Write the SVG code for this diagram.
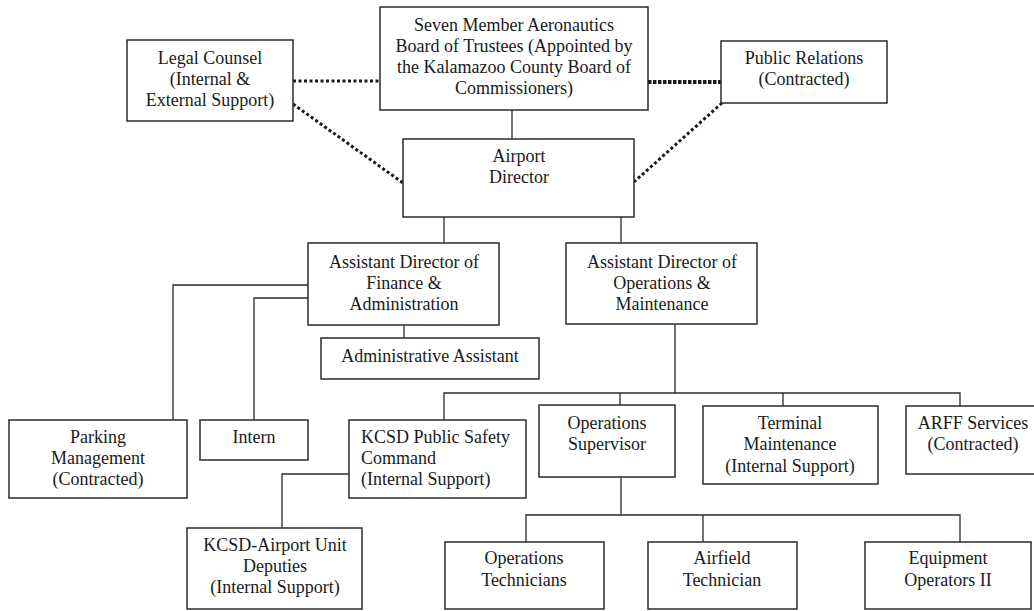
<svg xmlns="http://www.w3.org/2000/svg" width="1034" height="611" viewBox="0 0 1034 611">
<style>
.box{fill:#fff;stroke:#2b2b2b;stroke-width:1.5}
.t{font-family:"Liberation Serif","Times New Roman",serif;font-size:18px;fill:#1a1a1a;text-anchor:middle}
.tl{font-family:"Liberation Serif","Times New Roman",serif;font-size:18px;fill:#1a1a1a;text-anchor:start}
.c{fill:none;stroke:#2b2b2b;stroke-width:1.3}
.d{fill:none;stroke:#1a1a1a;stroke-width:3;stroke-dasharray:3 2.5}
.d2{fill:none;stroke:#1a1a1a;stroke-width:4;stroke-dasharray:3.5 1.5}
</style>
<rect width="1034" height="611" fill="#fff"/>
<g id="connectors">
<path class="d" d="M293 81H380"/>
<path class="d2" d="M648 82H721"/>
<path class="d" d="M293 104L403 183"/>
<path class="d" d="M722 103L634 182"/>
<path class="c" d="M512 110V139"/>
<path class="c" d="M444 217V243"/>
<path class="c" d="M621 217V243"/>
<path class="c" d="M308 285H173V420"/>
<path class="c" d="M308 298H254V420"/>
<path class="c" d="M404 325V338"/>
<path class="c" d="M675 324V393"/>
<path class="c" d="M444 420V393H960V406"/>
<path class="c" d="M620 393V405"/>
<path class="c" d="M783 393V406"/>
<path class="c" d="M349 474H282V528"/>
<path class="c" d="M621 477V515"/>
<path class="c" d="M526 542V515H960V542"/>
<path class="c" d="M703 515V542"/>
</g>
<g id="board">
<rect class="box" x="380" y="7" width="268" height="103"/>
<text class="t" x="514" y="31">Seven Member Aeronautics</text>
<text class="t" x="514" y="52">Board of Trustees (Appointed by</text>
<text class="t" x="514" y="73">the Kalamazoo County Board of</text>
<text class="t" x="514" y="94">Commissioners)</text>
</g>
<g id="legal">
<rect class="box" x="127" y="40" width="166" height="81"/>
<text class="t" x="210" y="64">Legal Counsel</text>
<text class="t" x="210" y="85">(Internal &amp;</text>
<text class="t" x="210" y="106">External Support)</text>
</g>
<g id="pr">
<rect class="box" x="721" y="41" width="166" height="62"/>
<text class="t" x="804" y="64">Public Relations</text>
<text class="t" x="804" y="85">(Contracted)</text>
</g>
<g id="director">
<rect class="box" x="403" y="139" width="231" height="78"/>
<text class="t" x="519" y="162">Airport</text>
<text class="t" x="519" y="183">Director</text>
</g>
<g id="fin">
<rect class="box" x="308" y="243" width="191" height="82"/>
<text class="t" x="404" y="268">Assistant Director of</text>
<text class="t" x="404" y="289">Finance &amp;</text>
<text class="t" x="404" y="310">Administration</text>
</g>
<g id="ops">
<rect class="box" x="566" y="243" width="191" height="81"/>
<text class="t" x="662" y="268">Assistant Director of</text>
<text class="t" x="662" y="289">Operations &amp;</text>
<text class="t" x="662" y="310">Maintenance</text>
</g>
<g id="admin">
<rect class="box" x="321" y="338" width="218" height="41"/>
<text class="t" x="430" y="362">Administrative Assistant</text>
</g>
<g id="parking">
<rect class="box" x="9" y="420" width="178" height="78"/>
<text class="t" x="98" y="443">Parking</text>
<text class="t" x="98" y="464">Management</text>
<text class="t" x="98" y="485">(Contracted)</text>
</g>
<g id="intern">
<rect class="box" x="200" y="420" width="108" height="40"/>
<text class="t" x="254" y="443">Intern</text>
</g>
<g id="kcsd">
<rect class="box" x="349" y="420" width="177" height="78"/>
<text class="tl" x="361" y="443">KCSD Public Safety</text>
<text class="tl" x="361" y="464">Command</text>
<text class="tl" x="361" y="485">(Internal Support)</text>
</g>
<g id="opssup">
<rect class="box" x="539" y="405" width="136" height="72"/>
<text class="t" x="607" y="429">Operations</text>
<text class="t" x="607" y="450">Supervisor</text>
</g>
<g id="terminal">
<rect class="box" x="703" y="406" width="175" height="78"/>
<text class="t" x="790" y="429">Terminal</text>
<text class="t" x="790" y="450">Maintenance</text>
<text class="t" x="790" y="472">(Internal Support)</text>
</g>
<g id="arff">
<rect class="box" x="906" y="406" width="130" height="68"/>
<text class="t" x="973" y="429">ARFF Services</text>
<text class="t" x="973" y="450">(Contracted)</text>
</g>
<g id="deputies">
<rect class="box" x="187" y="528" width="175" height="81"/>
<text class="t" x="275" y="551">KCSD-Airport Unit</text>
<text class="t" x="275" y="572">Deputies</text>
<text class="t" x="275" y="593">(Internal Support)</text>
</g>
<g id="opstech">
<rect class="box" x="445" y="542" width="159" height="67"/>
<text class="t" x="524" y="564">Operations</text>
<text class="t" x="524" y="586">Technicians</text>
</g>
<g id="airfield">
<rect class="box" x="648" y="542" width="149" height="67"/>
<text class="t" x="722" y="564">Airfield</text>
<text class="t" x="722" y="586">Technician</text>
</g>
<g id="equipment">
<rect class="box" x="865" y="542" width="166" height="67"/>
<text class="t" x="948" y="564">Equipment</text>
<text class="t" x="948" y="586">Operators II</text>
</g>
</svg>
